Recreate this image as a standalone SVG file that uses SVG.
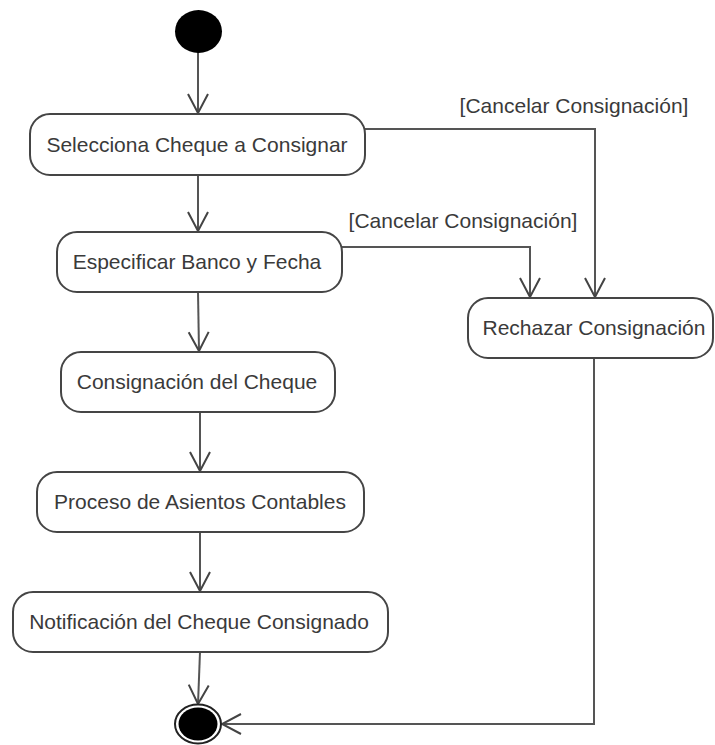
<svg xmlns="http://www.w3.org/2000/svg" width="715" height="745" viewBox="0 0 715 745">
  <style>
    .act { fill: #ffffff; stroke: #454545; stroke-width: 2; }
    .lbl { font-family: "Liberation Sans", Arial, sans-serif; font-size: 21px; fill: #3a3a3a; text-anchor: middle; }
    .flow { fill: none; stroke: #555555; stroke-width: 2; }
  </style>
  <defs>
    <marker id="open" markerUnits="userSpaceOnUse" markerWidth="24" markerHeight="24" viewBox="-22 -12 24 24" refX="0" refY="0" orient="auto">
      <path d="M-19,-10 L0,0 L-19,10" fill="none" stroke="#444444" stroke-width="2"/>
    </marker>
  </defs>
  <rect width="715" height="745" fill="#ffffff"/>

  <g id="connectors">
    <path class="flow" d="M198,52 L198,113" marker-end="url(#open)"/>
    <path class="flow" d="M198,175 L198,231" marker-end="url(#open)"/>
    <path class="flow" d="M198,292 L199,351" marker-end="url(#open)"/>
    <path class="flow" d="M200,412 L200,471" marker-end="url(#open)"/>
    <path class="flow" d="M200,532 L200,591" marker-end="url(#open)"/>
    <path class="flow" d="M200,652 L198,704" marker-end="url(#open)"/>
    <path class="flow" d="M365,129 L595,129 L595,297" marker-end="url(#open)"/>
    <path class="flow" d="M342,247 L530,247 L530,297" marker-end="url(#open)"/>
    <path class="flow" d="M594,358 L594,724 L222,724" marker-end="url(#open)"/>
    <text class="lbl" x="574" y="113">[Cancelar Consignación]</text>
    <text class="lbl" x="463" y="228">[Cancelar Consignación]</text>
  </g>

  <g id="start">
    <ellipse cx="198.5" cy="31.5" rx="23.5" ry="21.5" fill="#000000"/>
  </g>

  <g id="selecciona">
    <rect class="act" x="30" y="114" width="335" height="61" rx="20" ry="20"/>
    <text class="lbl" x="197" y="152">Selecciona Cheque a Consignar</text>
  </g>

  <g id="especificar">
    <rect class="act" x="57" y="232" width="285" height="60" rx="20" ry="20"/>
    <text class="lbl" x="197" y="269">Especificar Banco y Fecha</text>
  </g>

  <g id="consignacion">
    <rect class="act" x="61" y="352" width="274" height="60" rx="20" ry="20"/>
    <text class="lbl" x="197" y="389">Consignación del Cheque</text>
  </g>

  <g id="asientos">
    <rect class="act" x="37" y="472" width="327" height="60" rx="20" ry="20"/>
    <text class="lbl" x="200" y="509">Proceso de Asientos Contables</text>
  </g>

  <g id="notificacion">
    <rect class="act" x="13" y="592" width="375" height="60" rx="20" ry="20"/>
    <text class="lbl" x="199" y="629">Notificación del Cheque Consignado</text>
  </g>

  <g id="rechazar">
    <rect class="act" x="468" y="298" width="245" height="60" rx="20" ry="20"/>
    <text class="lbl" x="594" y="335">Rechazar Consignación</text>
  </g>

  <g id="end">
    <ellipse cx="198" cy="724" rx="23" ry="19.5" fill="#ffffff" stroke="#222222" stroke-width="2"/>
    <ellipse cx="198" cy="724" rx="19.5" ry="16.5" fill="#000000"/>
  </g>
</svg>
